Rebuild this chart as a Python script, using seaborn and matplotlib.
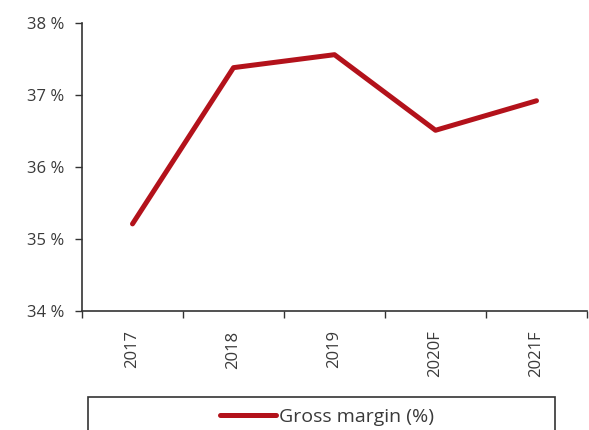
import matplotlib
matplotlib.use("Agg")
import matplotlib.pyplot as plt
from matplotlib.patches import Rectangle
from matplotlib.ticker import FixedLocator
from matplotlib.lines import Line2D
import seaborn as sns
import pandas as pd

years = ["2017", "2018", "2019", "2020F", "2021F"]
gross_margin = [35.21, 37.38, 37.56, 36.51, 36.92]
y_ticks = [34, 35, 36, 37, 38]
series_label = "Gross margin (%)"

sns.set_style("white")
plt.rcParams['font.family'] = ['Open Sans', 'DejaVu Sans']

df = pd.DataFrame({"year": years, "value": gross_margin})

LINE_COLOR = "#B3121B"
TEXT_COLOR = "#3a3a3a"

fig = plt.figure(figsize=(5.89, 4.30), dpi=100)
ax = fig.add_axes([82/589, 1-311/430, 505/589, 288/430])

sns.lineplot(data=df, x="year", y="value", ax=ax, color=LINE_COLOR,
             linewidth=3.6, sort=False, legend=False)

ax.set_xlim(-0.5, len(years) - 0.5)
ax.set_ylim(34, 38)
ax.set_yticks(y_ticks)
ax.set_yticklabels([f"{v} %" for v in y_ticks])
ax.set_xticks(range(len(years)))
ax.set_xticklabels(years, rotation=90)
ax.xaxis.set_minor_locator(FixedLocator([i - 0.5 for i in range(len(years) + 1)]))
ax.tick_params(axis="x", which="major", length=0, pad=14, labelsize=12, colors=TEXT_COLOR)
ax.tick_params(axis="x", which="minor", length=5, width=1, color="#333333", direction="out", bottom=True)
ax.tick_params(axis="y", length=5, width=1, color="#333333", direction="out", left=True,
               labelsize=12, labelcolor=TEXT_COLOR, pad=8)
ax.set_xlabel("")
ax.set_ylabel("")
for s in ["top", "right"]:
    ax.spines[s].set_visible(False)
for s in ["left", "bottom"]:
    ax.spines[s].set_color("#333333")
    ax.spines[s].set_linewidth(1.2)

# legend box
rect = Rectangle((88/589, -0.1), 467/589, (430-397)/430 + 0.1, transform=fig.transFigure,
                 fill=False, edgecolor="#333333", linewidth=1.2, clip_on=False)
fig.patches.append(rect)
h = Line2D([], [], color=LINE_COLOR, linewidth=3.6)
fig.legend([h], [series_label], loc="center", bbox_to_anchor=(327/589, 1-417/430),
           frameon=False, fontsize=14, handlelength=2.9, handletextpad=0.15,
           labelcolor=TEXT_COLOR)

fig.savefig("out.png", dpi=100)
